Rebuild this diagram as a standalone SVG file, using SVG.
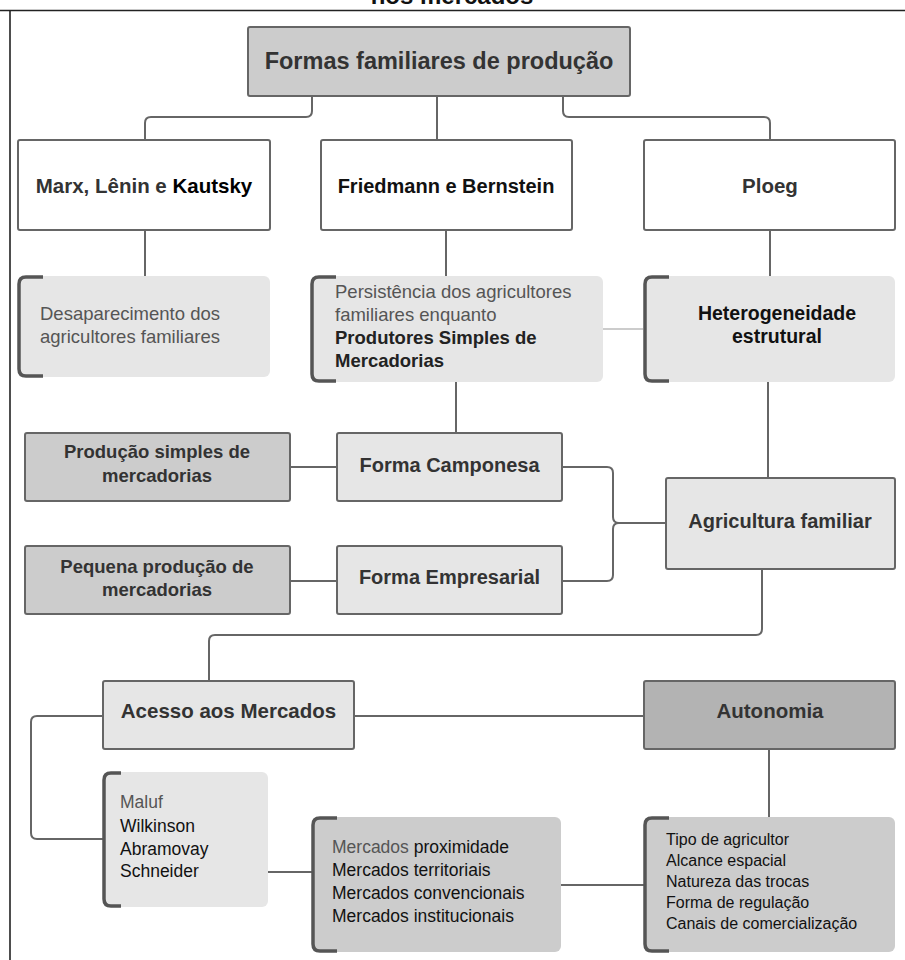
<svg xmlns="http://www.w3.org/2000/svg" width="905" height="960" viewBox="0 0 905 960">
<style>
text{font-family:"Liberation Sans",Arial,sans-serif}
.b{font-weight:bold}
.c{text-anchor:middle}
.box{stroke:#666;stroke-width:2}
.w{fill:#fff}
.l{fill:#e6e6e6}
.m{fill:#cccccc}
.d{fill:#b3b3b3}
.br{fill:none;stroke:#555;stroke-width:3.5;stroke-linecap:butt}
.conn path{fill:none;stroke:#666;stroke-width:2}
.conn .thin{stroke:#999;stroke-width:1.2}
</style>
<text class="b c" x="452" y="4" font-size="24" fill="#111">nos mercados</text>
<path d="M0 10.5 H905 M10 10 V960" stroke="#222" stroke-width="1.6" fill="none"/>

<g class="conn">
<path d="M312 96 V111 Q312 117 306 117 H151 Q145 117 145 123 V140"/>
<path d="M437 96 V140"/>
<path d="M563 96 V111 Q563 117 569 117 H764 Q770 117 770 123 V140"/>
<path d="M145 230 V276"/>
<path d="M446 230 V276"/>
<path d="M770 230 V276"/>
<path class="thin" d="M603 329 H643"/>
<path d="M456 382 V433"/>
<path d="M768 382 V478"/>
<path d="M290 467 H337"/>
<path d="M290 581 H337"/>
<path d="M562 467 H607 Q613 467 613 473 V517 Q613 523 619 523 H666"/>
<path d="M562 581 H607 Q613 581 613 575 V529 Q613 523 619 523"/>
<path d="M762 569 V629 Q762 635 756 635 H215 Q209 635 209 641 V681"/>
<path d="M354 716 H644"/>
<path d="M103 716 H37 Q31 716 31 722 V833 Q31 839 37 839 H103"/>
<path d="M207 872 H312"/>
<path d="M561 885 H644"/>
<path d="M769 749 V817"/>
</g>

<g id="formas">
<rect class="box m" x="248" y="27" width="382" height="69" rx="2"/>
<text class="b c" x="439" y="69" font-size="23.5" fill="#333">Formas familiares de produção</text>
</g>

<g id="marx">
<rect class="box w" x="18" y="140" width="252" height="90" rx="2"/>
<text class="b c" x="144" y="193" font-size="20.5" fill="#333">Marx, Lênin e <tspan fill="#000">Kautsky</tspan></text>
</g>
<g id="friedmann">
<rect class="box w" x="321" y="140" width="251" height="90" rx="2"/>
<text class="b c" x="446" y="193" font-size="20" fill="#111">Friedmann e Bernstein</text>
</g>
<g id="ploeg">
<rect class="box w" x="644" y="140" width="251" height="90" rx="2"/>
<text class="b c" x="770" y="193" font-size="20.5" fill="#333">Ploeg</text>
</g>

<g id="desaparecimento">
<rect class="l" x="18" y="276" width="252" height="101" rx="6"/>
<path class="br" d="M43 277 H26 Q19 277 19 284 V369 Q19 376 26 376 H43"/>
<text x="40" y="320" font-size="18.5" fill="#555">Desaparecimento dos</text>
<text x="40" y="343" font-size="18.5" fill="#555">agricultores familiares</text>
</g>

<g id="persistencia">
<rect class="l" x="311" y="276" width="292" height="106" rx="6"/>
<path class="br" d="M336 277 H319 Q312 277 312 284 V374 Q312 381 319 381 H336"/>
<text x="335" y="298" font-size="18.5" fill="#555">Persistência dos agricultores</text>
<text x="335" y="321" font-size="18.5" fill="#555">familiares enquanto</text>
<text class="b" x="335" y="344" font-size="18.5" fill="#222">Produtores Simples de</text>
<text class="b" x="335" y="367" font-size="18.5" fill="#222">Mercadorias</text>
</g>

<g id="heterogeneidade">
<rect class="l" x="644" y="276" width="251" height="106" rx="6"/>
<path class="br" d="M669 277 H652 Q645 277 645 284 V374 Q645 381 652 381 H669"/>
<text class="b c" x="777" y="320" font-size="19.5" fill="#111">Heterogeneidade</text>
<text class="b c" x="777" y="343" font-size="19.5" fill="#111">estrutural</text>
</g>

<g id="producao-simples">
<rect class="box m" x="25" y="433" width="265" height="68" rx="2"/>
<text class="b c" x="157" y="458" font-size="18.5" fill="#333">Produção simples de</text>
<text class="b c" x="157" y="482" font-size="18.5" fill="#333">mercadorias</text>
</g>
<g id="pequena">
<rect class="box m" x="25" y="546" width="265" height="68" rx="2"/>
<text class="b c" x="157" y="573" font-size="18.5" fill="#333">Pequena produção de</text>
<text class="b c" x="157" y="596" font-size="18.5" fill="#333">mercadorias</text>
</g>

<g id="camponesa">
<rect class="box l" x="337" y="433" width="225" height="68" rx="2"/>
<text class="b c" x="449.5" y="472" font-size="20" fill="#333">Forma Camponesa</text>
</g>
<g id="empresarial">
<rect class="box l" x="337" y="546" width="225" height="68" rx="2"/>
<text class="b c" x="449.5" y="584" font-size="20" fill="#333">Forma Empresarial</text>
</g>

<g id="agricultura">
<rect class="box l" x="666" y="478" width="229" height="91" rx="2"/>
<text class="b c" x="780" y="528" font-size="20" fill="#333">Agricultura familiar</text>
</g>

<g id="acesso">
<rect class="box l" x="103" y="681" width="251" height="68" rx="2"/>
<text class="b c" x="228.5" y="718" font-size="20.5" fill="#333">Acesso aos Mercados</text>
</g>
<g id="autonomia">
<rect class="box d" x="644" y="681" width="251" height="68" rx="2"/>
<text class="b c" x="770" y="718" font-size="20.5" fill="#333">Autonomia</text>
</g>

<g id="autores">
<rect class="l" x="103" y="772" width="165" height="135" rx="6"/>
<path class="br" d="M121 773 H111 Q104 773 104 780 V899 Q104 906 111 906 H121"/>
<text x="120" y="808" font-size="17.5" fill="#555">Maluf</text>
<text x="120" y="832" font-size="17.5" fill="#111">Wilkinson</text>
<text x="120" y="855" font-size="17.5" fill="#111">Abramovay</text>
<text x="120" y="877" font-size="17.5" fill="#111">Schneider</text>
</g>

<g id="mercados">
<rect class="m" x="312" y="817" width="249" height="135" rx="6"/>
<path class="br" d="M337 818 H320 Q313 818 313 825 V944 Q313 951 320 951 H337"/>
<text x="332" y="853" font-size="17.5" fill="#111"><tspan fill="#555">Mercados</tspan> proximidade</text>
<text x="332" y="876" font-size="17.5" fill="#111">Mercados territoriais</text>
<text x="332" y="899" font-size="17.5" fill="#111">Mercados convencionais</text>
<text x="332" y="922" font-size="17.5" fill="#111">Mercados institucionais</text>
</g>

<g id="tipo">
<rect class="m" x="644" y="817" width="251" height="135" rx="6"/>
<path class="br" d="M669 818 H652 Q645 818 645 825 V944 Q645 951 652 951 H669"/>
<text x="666" y="845" font-size="16" fill="#111">Tipo de agricultor</text>
<text x="666" y="866" font-size="16" fill="#111">Alcance espacial</text>
<text x="666" y="887" font-size="16" fill="#111">Natureza das trocas</text>
<text x="666" y="908" font-size="16" fill="#111">Forma de regulação</text>
<text x="666" y="929" font-size="16" fill="#111">Canais de comercialização</text>
</g>
</svg>
